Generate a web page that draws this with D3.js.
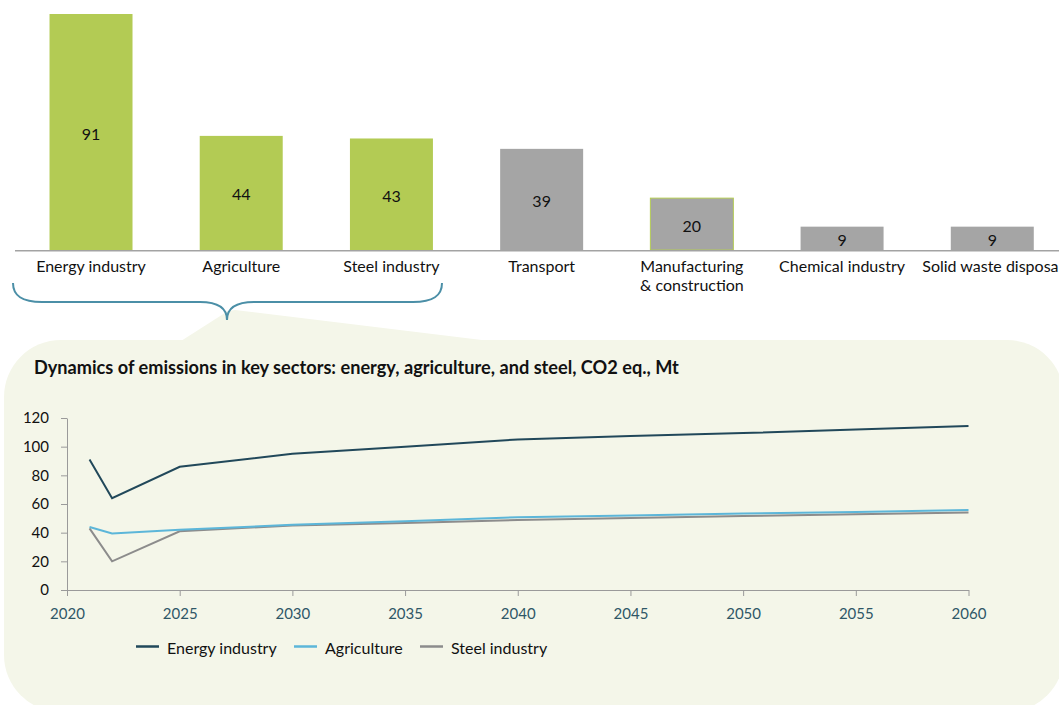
<!DOCTYPE html>
<html>
<head>
<meta charset="utf-8">
<script src="https://cdn.jsdelivr.net/npm/d3@7"></script>
<style>
  html, body { margin: 0; padding: 0; background: #ffffff; overflow: hidden; }
  svg { display: block; font-family: Lato, "Open Sans", sans-serif; }
</style>
</head>
<body>
<svg id="chart" width="1059" height="705"></svg>
<script>
// Emissions by sector, CO2 eq., Mt
const sectors = ["Energy industry", "Agriculture", "Steel industry", "Transport",
                 "Manufacturing\n& construction", "Chemical industry", "Solid waste disposal"];
const sectorValues = [91, 44, 43, 39, 20, 9, 9];
const keySectors = ["Energy industry", "Agriculture", "Steel industry"];

// Projected emissions in the key sectors
const years = [2021, 2022, 2025, 2030, 2035, 2040, 2045, 2050, 2055, 2060];
const energyIndustry = [91, 64, 86, 95, 100, 105, 107.5, 109.5, 112, 114.5];
const agriculture    = [44, 39.5, 42, 45.5, 48, 50.8, 52, 53.3, 54.5, 55.8];
const steelIndustry  = [43, 20, 41, 45, 46.8, 48.8, 50.2, 51.6, 52.8, 54];
const seriesNames = ["Energy industry", "Agriculture", "Steel industry"];
const yearTicks = [2020, 2025, 2030, 2035, 2040, 2045, 2050, 2055, 2060];
const valueTicks = [0, 20, 40, 60, 80, 100, 120];

const svg = d3.select("#chart");
const GREEN = "#b3cb54", GREY = "#a5a5a5", PANEL = "#f4f6e9", BRACE = "#4b8fa7";
const seriesColors = ["#21485a", "#5cb6d9", "#8c8c8c"];

// ---------- Bar chart of sector emissions ----------
const x = d3.scaleBand().domain(sectors).range([-17.7, 1101]).paddingInner(0.4475).paddingOuter(0.4475);
const y = d3.scaleLinear().domain([0, 91]).range([250, 14]);

svg.append("g").selectAll("rect")
  .data(sectors)
  .join("rect")
  .attr("x", d => x(d))
  .attr("width", x.bandwidth())
  .attr("y", (d, i) => y(sectorValues[i]))
  .attr("height", (d, i) => y(0) - y(sectorValues[i]))
  .attr("fill", d => keySectors.includes(d) ? GREEN : GREY)
  .attr("stroke", d => d.startsWith("Manufacturing") ? GREEN : "none")
  .attr("stroke-width", 1);

svg.append("g").selectAll("text")
  .data(sectors)
  .join("text")
  .attr("x", d => x(d) + x.bandwidth() / 2)
  .attr("y", (d, i) => (y(sectorValues[i]) + y(0)) / 2 + 1)
  .attr("text-anchor", "middle")
  .attr("dominant-baseline", "central")
  .attr("font-size", 16)
  .attr("fill", "#111")
  .text((d, i) => sectorValues[i]);

svg.append("line")
  .attr("x1", 15).attr("x2", 1059)
  .attr("y1", 250.75).attr("y2", 250.75)
  .attr("stroke", "#a3a3a3").attr("stroke-width", 1.5);

const catLabels = svg.append("g").selectAll("text")
  .data(sectors)
  .join("text")
  .attr("text-anchor", "middle")
  .attr("font-size", 16)
  .attr("fill", "#111");
catLabels.each(function (d) {
  const cx = x(d) + x.bandwidth() / 2;
  d3.select(this).selectAll("tspan")
    .data(d.split("\n"))
    .join("tspan")
    .attr("x", cx)
    .attr("y", (t, i) => 272 + i * 19)
    .text(t => t);
});

// ---------- Callout panel with brace ----------
svg.append("rect")
  .attr("x", 4).attr("y", 340)
  .attr("width", 1060).attr("height", 372)
  .attr("rx", 57).attr("ry", 57)
  .attr("fill", PANEL);

svg.append("path")
  .attr("d", "M181,341 L228,311 L235,310 L490,341 Z")
  .attr("fill", PANEL);

svg.append("path")
  .attr("d", "M13,283 C13,296 22,302 42,302 L200,302 C218,302 227,308 227,320 " +
             "C227,308 236,302 254,302 L413,302 C433,302 442,296 442,283")
  .attr("fill", "none")
  .attr("stroke", BRACE)
  .attr("stroke-width", 2);

// Title sized so it spans the panel's heading width
const title = svg.append("text")
  .attr("x", 34).attr("y", 374)
  .attr("font-size", 16)
  .attr("font-weight", "bold")
  .attr("fill", "#111")
  .text("Dynamics of emissions in key sectors: energy, agriculture, and steel, CO2 eq., Mt");
const titleLen = title.node().getComputedTextLength();
if (titleLen > 0) title.attr("font-size", Math.min(18.5, 16 * 645 / titleLen));

// ---------- Line chart ----------
const lx = d3.scaleLinear().domain([2020, 2060]).range([67, 968.5]);
const ly = d3.scaleLinear().domain([0, 120]).range([590, 418]);

const yAxis = svg.append("g")
  .attr("transform", "translate(67,0)")
  .call(d3.axisLeft(ly).tickValues(valueTicks).tickSize(6).tickPadding(12).tickSizeOuter(0));
yAxis.select(".domain").attr("stroke", "#9a9a9a");
yAxis.selectAll(".tick line").attr("stroke", "#9a9a9a");
yAxis.selectAll(".tick text").attr("font-size", 15).attr("fill", "#111").attr("font-family", "Lato, sans-serif");

const xAxis = svg.append("g")
  .attr("transform", "translate(0,590)")
  .call(d3.axisBottom(lx).tickValues(yearTicks).tickFormat(d3.format("d")).tickSize(6).tickPadding(12).tickSizeOuter(0));
xAxis.select(".domain").attr("stroke", "#9a9a9a");
xAxis.selectAll(".tick line").attr("stroke", "#9a9a9a");
xAxis.selectAll(".tick text").attr("font-size", 15).attr("fill", "#2f5767").attr("font-family", "Lato, sans-serif");

const seriesData = [energyIndustry, agriculture, steelIndustry];
const line = d3.line().x((d, i) => lx(years[i])).y(d => ly(d));

// draw steel first so the coloured lines sit above it
[2, 1, 0].forEach(k => {
  svg.append("path")
    .datum(seriesData[k])
    .attr("d", line)
    .attr("fill", "none")
    .attr("stroke", seriesColors[k])
    .attr("stroke-width", 2)
    .attr("stroke-linejoin", "miter");
});

// Legend
const legendX = [136, 294, 420];
const legend = svg.append("g").selectAll("g")
  .data(seriesNames)
  .join("g")
  .attr("transform", (d, i) => `translate(${legendX[i]},0)`);
legend.append("line")
  .attr("x1", 0).attr("x2", 23)
  .attr("y1", 646.5).attr("y2", 646.5)
  .attr("stroke", (d, i) => seriesColors[i])
  .attr("stroke-width", 2.5);
legend.append("text")
  .attr("x", 31).attr("y", 654)
  .attr("font-size", 16)
  .attr("fill", "#111")
  .text(d => d);
</script>
</body>
</html>
